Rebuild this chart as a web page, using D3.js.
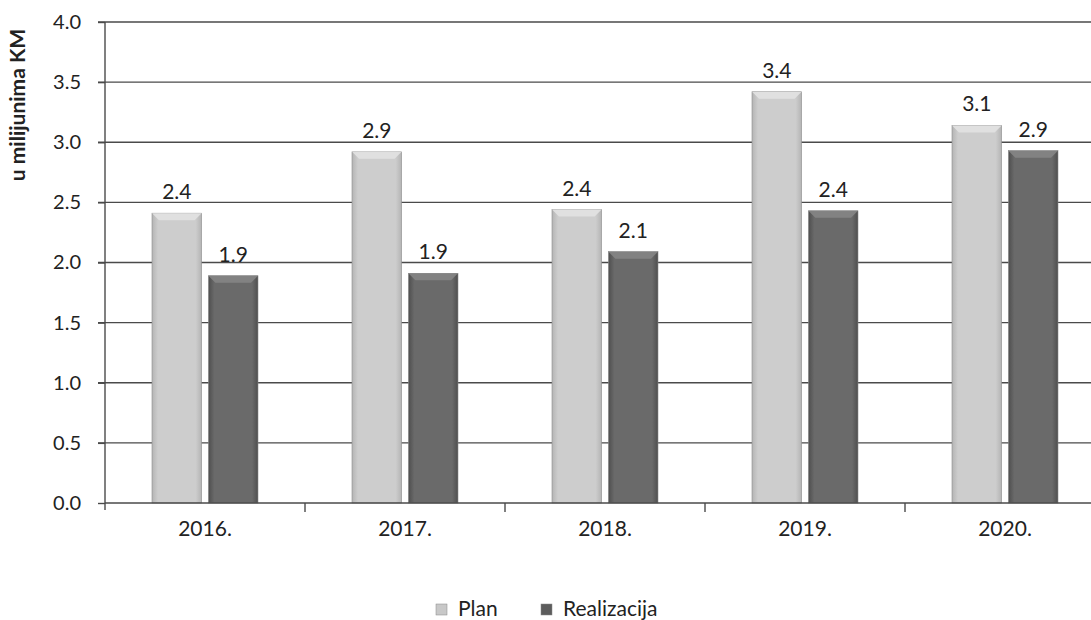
<!DOCTYPE html>
<html>
<head>
<meta charset="utf-8">
<script src="https://cdn.jsdelivr.net/npm/d3@7"></script>
<style>
  body { margin: 0; background: #fff; }
  text { font-family: Lato, "Open Sans", sans-serif; fill: #222; }
</style>
</head>
<body>
<div id="chart"></div>
<script>
var years = ['2016.', '2017.', '2018.', '2019.', '2020.'];
var series = ['Plan', 'Realizacija'];
var plan = [2.41, 2.92, 2.44, 3.42, 3.14];
var realizacija = [1.89, 1.91, 2.09, 2.43, 2.93];
var yTicks = [0, 0.5, 1, 1.5, 2, 2.5, 3, 3.5, 4];

var width = 1091, height = 620,
    margin = {top: 22, left: 105, bottom: 117},
    plotRight = 1105;

var svg = d3.select('#chart').append('svg')
    .attr('width', width)
    .attr('height', height);

var defs = svg.append('defs');
function grad(id, edge, mid) {
    var g = defs.append('linearGradient').attr('id', id)
        .attr('x1', '0%').attr('x2', '100%').attr('y1', '0%').attr('y2', '0%');
    g.append('stop').attr('offset', '0%').attr('stop-color', edge);
    g.append('stop').attr('offset', '12%').attr('stop-color', mid);
    g.append('stop').attr('offset', '88%').attr('stop-color', mid);
    g.append('stop').attr('offset', '100%').attr('stop-color', edge);
}
grad('gPlan', '#b4b4b4', '#cdcdcd');
grad('gReal', '#4e4e4e', '#6a6a6a');
var colors = {Plan: 'url(#gPlan)', Realizacija: 'url(#gReal)'};
var capColors = {Plan: '#e2e2e2', Realizacija: '#858585'};
var legendColors = {Plan: '#c8c8c8', Realizacija: '#5c5c5c'};
var lineColor = '#4a4a4a';

var y = d3.scaleLinear().domain([0, 4]).range([height - margin.bottom, margin.top]);
var x = d3.scaleBand().domain(years).range([margin.left, plotRight]);
var xs = d3.scaleBand().domain(series).range([47, 153]).paddingInner(0.12);

// gridlines
svg.append('g').selectAll('line').data(yTicks.slice(1)).enter().append('line')
    .attr('x1', margin.left - 7).attr('x2', plotRight)
    .attr('y1', function (d) { return y(d); }).attr('y2', function (d) { return y(d); })
    .attr('stroke', lineColor).attr('stroke-width', 1.4);

// y axis
var yAxis = svg.append('g')
    .attr('transform', 'translate(' + margin.left + ',0)')
    .call(d3.axisLeft(y).tickValues(yTicks).tickFormat(d3.format('.1f')).tickSize(7).tickPadding(17));
yAxis.select('.domain').remove();
yAxis.selectAll('line').attr('stroke', lineColor).attr('stroke-width', 1.4);
yAxis.selectAll('text').style('font-size', '20px').attr('fill', '#222');
svg.append('line')
    .attr('x1', margin.left).attr('x2', margin.left)
    .attr('y1', y(4)).attr('y2', y(0) + 7)
    .attr('stroke', lineColor).attr('stroke-width', 1.4);

// bars
var rows = years.map(function (yr, i) {
    return {year: yr, values: [{s: 'Plan', v: plan[i]}, {s: 'Realizacija', v: realizacija[i]}]};
});

var groups = svg.append('g').selectAll('g').data(rows).enter().append('g')
    .attr('transform', function (d) { return 'translate(' + x(d.year) + ',0)'; });

var bars = groups.selectAll('g').data(function (d) { return d.values; }).enter().append('g');

bars.append('rect')
    .attr('x', function (d) { return xs(d.s); })
    .attr('y', function (d) { return y(d.v); })
    .attr('width', xs.bandwidth())
    .attr('height', function (d) { return y(0) - y(d.v); })
    .attr('fill', function (d) { return colors[d.s]; })
    .attr('stroke', '#8c8c8c').attr('stroke-width', 0.6);

// bevel cap on top of each bar
bars.append('path')
    .attr('d', function (d) {
        var x0 = xs(d.s), x1 = x0 + xs.bandwidth(), t = y(d.v), b = 7;
        return 'M' + x0 + ',' + t + 'L' + x1 + ',' + t + 'L' + (x1 - b) + ',' + (t + b) +
            'L' + (x0 + b) + ',' + (t + b) + 'Z';
    })
    .attr('fill', function (d) { return capColors[d.s]; })
    .attr('opacity', 0.9);

bars.append('text')
    .attr('x', function (d) { return xs(d.s) + xs.bandwidth() / 2; })
    .attr('y', function (d) { return y(d.v) - 14; })
    .attr('text-anchor', 'middle')
    .style('font-size', '21px')
    .text(function (d) { return d.v.toFixed(1); });

// x axis
svg.append('line')
    .attr('x1', margin.left).attr('x2', plotRight)
    .attr('y1', y(0)).attr('y2', y(0))
    .attr('stroke', lineColor).attr('stroke-width', 1.4);
svg.append('g').selectAll('line').data(years.slice(1)).enter().append('line')
    .attr('x1', function (d) { return x(d); }).attr('x2', function (d) { return x(d); })
    .attr('y1', y(0)).attr('y2', y(0) + 9)
    .attr('stroke', lineColor).attr('stroke-width', 1.4);
svg.append('g').selectAll('text').data(years).enter().append('text')
    .attr('x', function (d) { return x(d) + x.bandwidth() / 2; })
    .attr('y', y(0) + 33)
    .attr('text-anchor', 'middle')
    .style('font-size', '21px')
    .text(function (d) { return d; });

// y title
svg.append('text')
    .attr('transform', 'translate(25,105) rotate(-90)')
    .attr('text-anchor', 'middle')
    .style('font-size', '21px')
    .style('font-weight', 'bold')
    .text('u milijunima KM');

// legend
var legend = svg.append('g').selectAll('g').data(series).enter().append('g')
    .attr('transform', function (d, i) { return 'translate(' + (i === 0 ? 436 : 541) + ',600)'; });
legend.append('rect')
    .attr('width', 11).attr('height', 11).attr('y', 4)
    .attr('fill', function (d) { return legendColors[d]; })
    .attr('stroke', '#888').attr('stroke-width', 0.5);
legend.append('text')
    .attr('x', 22).attr('y', 16)
    .style('font-size', '21px')
    .text(function (d) { return d; });
</script>
</body>
</html>
